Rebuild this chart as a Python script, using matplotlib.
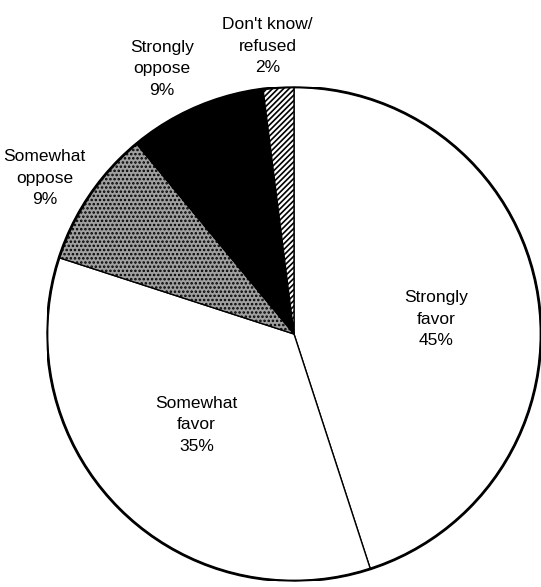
import numpy as np
import matplotlib
matplotlib.use('Agg')
import matplotlib.pyplot as plt
from matplotlib.patches import Circle

plt.rcParams['font.family'] = ['Liberation Sans', 'DejaVu Sans']
plt.rcParams['hatch.linewidth'] = 1.2

# Respuestas de la encuesta (en %), en el sentido de las agujas del reloj desde arriba
categorias = ['Strongly\nfavor', 'Somewhat\nfavor', 'Somewhat\noppose', 'Strongly\noppose', "Don't know/\nrefused"]
valores = [45, 35, 9, 9, 2]

colores = ['white', 'white', '#a0a0a0', 'black', 'white']
tramas = [None, None, '....', None, '//////']

# posicion de cada etiqueta (radio, angulo en grados)
pos_etiquetas = [(0.58, 6), (0.54, -137), (1.19, 148), (1.2, 116.5), (1.17, 95.2)]

fig = plt.figure(figsize=(5.41, 5.87), dpi=100)
R = 247
cx, cy = 294, 587 - 334
ax = fig.add_axes([(cx - R) / 541, (cy - R) / 587, 2 * R / 541, 2 * R / 587])

wedges, _ = ax.pie(valores, startangle=90, counterclock=False, colors=colores,
                   wedgeprops=dict(edgecolor='black', linewidth=1.0))
for w, t in zip(wedges, tramas):
    if t:
        w.set_hatch(t)

# borde exterior mas grueso
ax.add_patch(Circle((0, 0), 1, fill=False, edgecolor='black', linewidth=2.0, zorder=5))

for cat, v, (r, ang) in zip(categorias, valores, pos_etiquetas):
    a = np.deg2rad(ang)
    ax.text(r * np.cos(a), r * np.sin(a), f'{cat}\n{v}%', ha='center', va='center',
            fontsize=12.5, linespacing=1.55)

ax.set_xlim(-1, 1)
ax.set_ylim(-1, 1)
ax.set_aspect('equal')
ax.axis('off')

fig.savefig('out.png', dpi=100)
